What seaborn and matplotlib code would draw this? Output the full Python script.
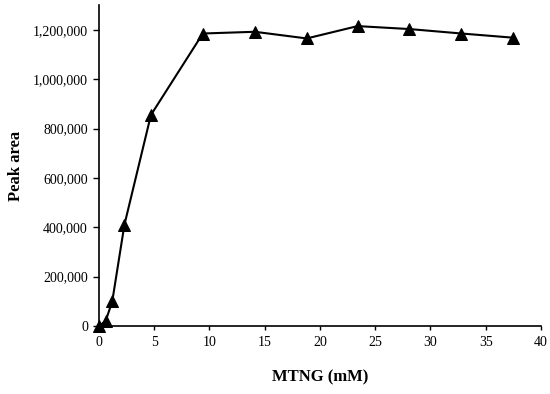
import matplotlib
matplotlib.use("Agg")
import matplotlib.pyplot as plt
import matplotlib.ticker as mticker
import seaborn as sns
import pandas as pd

# DATA

mtng_mM = [0, 0.6, 1.2, 2.3, 4.7, 9.4, 14.1, 18.8, 23.4, 28.1, 32.8, 37.5]
peak_area = [0, 20000, 100000, 410000, 855000, 1185000, 1192000, 1165000,
             1215000, 1203000, 1185000, 1168000]
x_ticks = [0, 5, 10, 15, 20, 25, 30, 35, 40]
y_ticks = [0, 200000, 400000, 600000, 800000, 1000000, 1200000]

df = pd.DataFrame({"MTNG (mM)": mtng_mM, "Peak area": peak_area})

# STYLE

sns.set_style("ticks")
plt.rcParams['font.family'] = ['Liberation Serif', 'DejaVu Serif']
plt.rcParams['axes.labelcolor'] = 'black'
plt.rcParams['text.color'] = 'black'

fig = plt.figure(figsize=(5.5, 3.94), dpi=100)
ax = fig.add_axes([0.18, 0.1726, 0.8036, 0.8144])

sns.lineplot(data=df, x="MTNG (mM)", y="Peak area", ax=ax, color="black",
             linewidth=1.5, marker="^", markersize=8, markeredgecolor="black",
             markerfacecolor="black", clip_on=False, zorder=3)

ax.set_xlim(0, 40)
ax.set_ylim(0, 1300000)
ax.set_xticks(x_ticks)
ax.set_yticks(y_ticks)
ax.yaxis.set_major_formatter(mticker.FuncFormatter(lambda v, p: f"{int(v):,}"))
ax.tick_params(axis="both", labelsize=10, direction="out", length=4,
               width=1, color="black", labelcolor="black", pad=4)
ax.tick_params(axis="x", length=3)
ax.set_xlabel("MTNG (mM)", fontsize=12, fontweight="bold", labelpad=15)
ax.set_ylabel("Peak area", fontsize=12, fontweight="bold", labelpad=6)

for s in ["top", "right"]:
    ax.spines[s].set_visible(False)
for s in ["left", "bottom"]:
    ax.spines[s].set_linewidth(1.2)
    ax.spines[s].set_color("black")

fig.savefig("out.png", dpi=100)
